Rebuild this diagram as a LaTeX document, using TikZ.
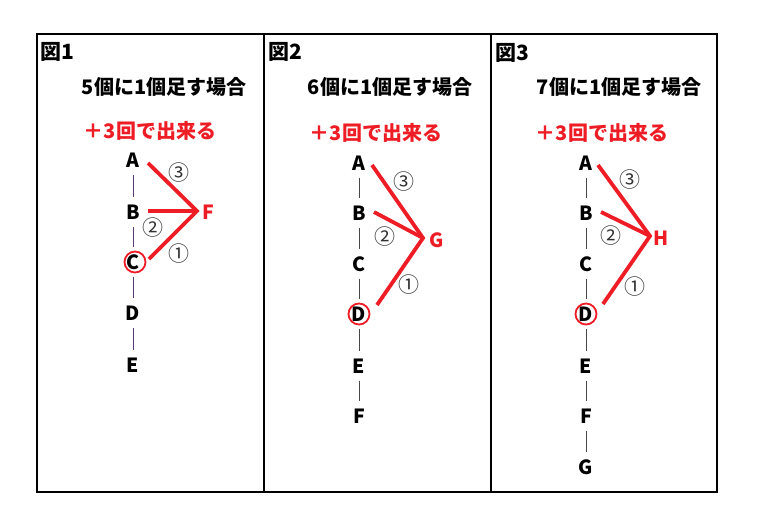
\documentclass[tikz,border=0pt]{standalone}
\usepackage{fontspec}
\setmainfont{Noto Sans CJK JP}
\newfontfamily\jp{Noto Sans CJK JP}
\definecolor{myred}{RGB}{238,28,37}
\definecolor{barone}{RGB}{90,60,120}
\definecolor{bargray}{RGB}{70,70,70}
\definecolor{numgray}{RGB}{50,50,50}
\tikzset{
  panel/.style={draw=black,line width=1.5pt},
  letter/.style={font=\jp\bfseries\fontsize{19.5}{19.5}\selectfont,inner sep=0pt,text height=14pt,text depth=0pt},
  tlabel/.style={font=\jp\bfseries\fontsize{20}{20}\selectfont,inner sep=0pt},
  redlabel/.style={font=\jp\bfseries\fontsize{20}{20}\selectfont,text=myred,inner sep=0pt},
  figlabel/.style={font=\jp\bfseries\fontsize{21}{21}\selectfont,inner sep=0pt,anchor=west},
  redletter/.style={letter,text=myred},
  cnum/.style={font=\jp\fontsize{21}{21}\selectfont,text=numgray,inner sep=0pt},
  bar/.style={line width=0.9pt,shorten <=7.5pt,shorten >=7.5pt},
  redline/.style={draw=myred,line width=3.8pt},
  ring/.style={draw=myred,line width=1.8pt,circle,minimum size=21pt,inner sep=0pt},
}
\begin{document}
\begin{tikzpicture}[x=1pt,y=-1pt]
\useasboundingbox (0,0) rectangle (760,525);
\fill[white] (0,0) rectangle (760,525);
% panels
\draw[panel] (37,34) rectangle (717,492);
\draw[panel] (264,34) -- (264,492);
\draw[panel] (491,34) -- (491,492);

% ---------- Panel 1 ----------
\node[figlabel] (f1) at (40,52) {図1};
\node[tlabel] (t1) at (164,87) {5個に1個足す場合};
\node[redlabel] (r1) at (150,131) {＋3回で出来る};
\node[letter] (a1) at (133,160) {A};
\node[letter] (b1) at (133,212) {B};
\node[letter] (c1) at (133,262) {C};
\node[letter] (d1) at (133,313) {D};
\node[letter] (e1) at (133,365) {E};
\node[redletter] (x1) at (208,212) {F};
\foreach \p/\q in {a1/b1,b1/c1,c1/d1,d1/e1} \draw[bar,draw=barone] (\p) -- (\q);
\coordinate (p1) at (197,211);
\coordinate (sa1) at (148,163);
\coordinate (sb1) at (148,211);
\coordinate (sc1) at (149,259);
\draw[redline,line join=miter] (sa1) -- (p1) -- (sc1);
\draw[redline] (sb1) -- (p1);
\node[ring] (o1) at (135,262) {};
\node[cnum] (n31) at (179,173) {③};
\node[cnum] (n21) at (153,228) {②};
\node[cnum] (n11) at (179,254) {①};

% ---------- Panel 2 ----------
\node[figlabel] (f2) at (268,52) {図2};
\node[tlabel] (t2) at (390,87) {6個に1個足す場合};
\node[redlabel] (r2) at (376,133) {＋3回で出来る};
\node[letter] (a2) at (359,163) {A};
\node[letter] (b2) at (359,213) {B};
\node[letter] (c2) at (359,264) {C};
\node[letter] (d2) at (359,314) {D};
\node[letter] (e2) at (359,366) {E};
\node[letter] (g2) at (359,416) {F};
\node[redletter] (x2) at (437,240) {G};
\foreach \p/\q in {a2/b2,b2/c2,c2/d2,d2/e2,e2/g2} \draw[bar,draw=bargray] (\p) -- (\q);
\coordinate (p2) at (423,238);
\coordinate (sa2) at (372,165);
\coordinate (sb2) at (374,212);
\coordinate (sd2) at (377,305);
\draw[redline,line join=miter] (sa2) -- (p2) -- (sd2);
\draw[redline] (sb2) -- (p2);
\node[ring] (o2) at (359,314) {};
\node[cnum] (n32) at (404,182) {③};
\node[cnum] (n22) at (385,237) {②};
\node[cnum] (n12) at (409,285) {①};

% ---------- Panel 3 ----------
\node[figlabel] (f3) at (495,53) {図3};
\node[tlabel] (t3) at (619,87) {7個に1個足す場合};
\node[redlabel] (r3) at (602,133) {＋3回で出来る};
\node[letter] (a3) at (586,163) {A};
\node[letter] (b3) at (586,213) {B};
\node[letter] (c3) at (586,264) {C};
\node[letter] (d3) at (586,314) {D};
\node[letter] (e3) at (586,366) {E};
\node[letter] (g3) at (586,416) {F};
\node[letter] (h3) at (586,467) {G};
\node[redletter] (x3) at (661,238) {H};
\foreach \p/\q in {a3/b3,b3/c3,c3/d3,d3/e3,e3/g3,g3/h3} \draw[bar,draw=bargray] (\p) -- (\q);
\coordinate (p3) at (650,236);
\coordinate (sa3) at (598,165);
\coordinate (sb3) at (601,212);
\coordinate (sd3) at (603,304);
\draw[redline,line join=miter] (sa3) -- (p3) -- (sd3);
\draw[redline] (sb3) -- (p3);
\node[ring] (o3) at (586,314) {};
\node[cnum] (n33) at (630,180) {③};
\node[cnum] (n23) at (611,236) {②};
\node[cnum] (n13) at (635,287) {①};
\end{tikzpicture}
\end{document}
